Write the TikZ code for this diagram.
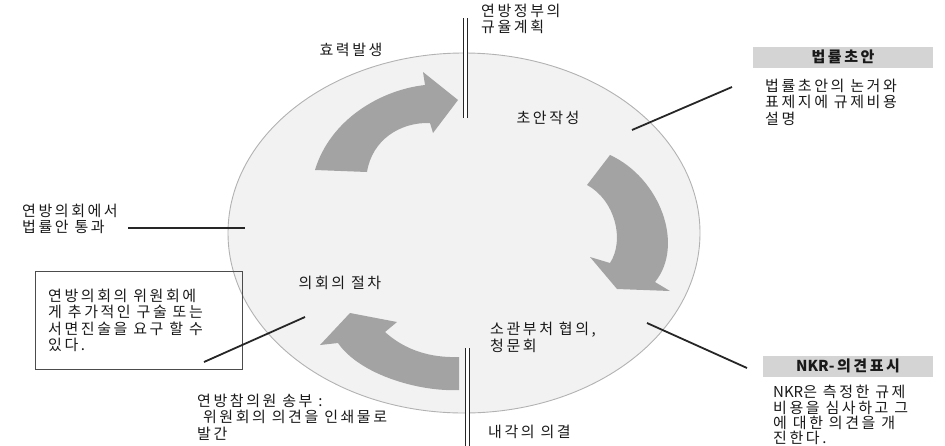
\documentclass[tikz,border=0pt]{standalone}
\usepackage{fontspec}
\newfontfamily\kr[LetterSpace=17]{Noto Sans CJK KR}
\newfontfamily\krl{Noto Sans CJK KR}

\tikzset{
    texto/.style={font=\kr\fontsize{15}{16.3}\selectfont, inner sep=0pt, align=left, text=black!90},
    flecha/.style={fill=black!36, draw=none},
    guia/.style={line width=1.8pt, black!85},
    doble/.style={double=white, double distance=2.6pt, line width=1.3pt, black!85},
    cabecera/.style={fill=black!17, draw=none, minimum width=180, minimum height=21, inner sep=0pt,
        font=\kr\bfseries\fontsize{15}{16}\selectfont, text=black!90}
}

\begin{document}
\begin{tikzpicture}[x=1pt, y=-1pt]

    \useasboundingbox (0,0) rectangle (945,445);

    % Elipse del ciclo
        \fill[black!5] (464,233) ellipse [x radius=236, y radius=180];
        \draw[black!30, line width=0.9pt] (464,233) ellipse [x radius=236, y radius=180];

    % Flechas grises
        \fill[flecha] (315,170) .. controls (330,120) and (380,90) .. (425,85)
            -- (423,72) -- (458,100) -- (433,133) -- (430,123)
            .. controls (400,122) and (372,140) .. (367,172) -- cycle;

        \fill[flecha] (610,155) .. controls (660,178) and (685,245) .. (655,282)
            -- (670,291) -- (617,289) -- (590,257) -- (610,263)
            .. controls (625,240) and (615,200) .. (587,185) -- cycle;

        \fill[flecha] (459,390) .. controls (420,392) and (360,375) .. (338,343)
            -- (320,345) -- (350,313) -- (397,322) -- (385,332)
            .. controls (405,350) and (430,358) .. (459,357) -- cycle;

    % Lineas dobles
        \coordinate (arribaA) at (465.5,18);
        \coordinate (arribaB) at (465.5,118);
        \draw[doble] (arribaA) -- (arribaB);

        \coordinate (abajoA) at (467.5,348);
        \coordinate (abajoB) at (467.5,446);
        \draw[doble] (abajoA) -- (abajoB);

    % Textos del ciclo
        \node[texto, anchor=north west] (plan) at (481,4) {연방정부의\\규율계획};
        \node[texto] (efecto) at (351,50) {효력발생};
        \node[texto] (borrador) at (548,118) {초안작성};
        \node[texto] (proceso) at (340,283) {의회의 절차};
        \node[texto, anchor=north west] (consulta) at (490,322) {소관부처 협의,\\청문회};
        \node[texto, anchor=west] (gabinete) at (488,432) {내각의 의결};
        \node[texto, anchor=north west] (senado) at (197,394) {연방참의원 송부 :\\\ 위원회의 의견을 인쇄물로\\발간};
        \node[texto, anchor=north west] (aprobado) at (22,204) {연방의회에서\\법률안 통과};

    % Recuadro izquierdo
        \draw[black!70, line width=0.9pt] (35,271) rectangle (242,369);
        \node[texto, anchor=north west] (comite) at (48,289)
            {연방의회의 위원회에\\게 추가적인 구술 또는\\서면진술을 요구 할 수\\있다.};

    % Bloques de la derecha
        \node[cabecera] (ley) at (843,57) {법률초안};
        \node[texto, anchor=north west] (leytxt) at (765,79) {법률초안의 논거와\\표제지에 규제비용\\설명};

        \node[cabecera, minimum width=170] (nkr) at (848,366) {{\krl NKR}-의견표시};
        \node[texto, anchor=north west, font=\kr\fontsize{15}{15.4}\selectfont] (nkrtxt) at (773,385)
            {{\krl NKR}은 측정한 규제\\비용을 심사하고 그\\에 대한 의견을 개\\진한다.};

    % Lineas guia
        \coordinate (g1a) at (632,130);
        \coordinate (g1b) at (732,87);
        \draw[guia] (g1a) -- (g1b);

        \coordinate (g2a) at (128,228);
        \coordinate (g2b) at (245,228);
        \draw[guia] (g2a) -- (g2b);

        \coordinate (g3a) at (204,362);
        \coordinate (g3b) at (305,317);
        \draw[guia] (g3a) -- (g3b);

        \coordinate (g4a) at (647,323);
        \coordinate (g4b) at (747,368);
        \draw[guia] (g4a) -- (g4b);

\end{tikzpicture}
\end{document}
